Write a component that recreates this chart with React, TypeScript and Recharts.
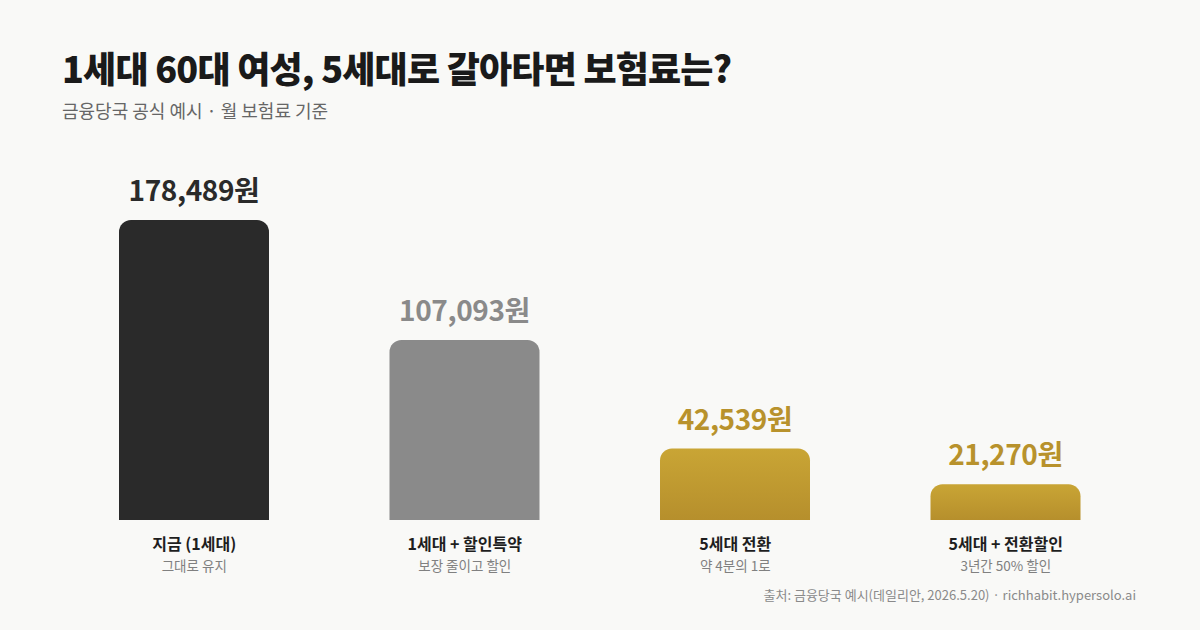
import React from "react";
import { BarChart, Bar, XAxis, YAxis, Cell, LabelList } from "recharts";

const categories = ["지금 (1세대)", "1세대 + 할인특약", "5세대 전환", "5세대 + 전환할인"];
const subLabels = ["그대로 유지", "보장 줄이고 할인", "약 4분의 1로", "3년간 50% 할인"];
const values = [178489, 107093, 42539, 21270];
const barFills = ["#2a2a2a", "#8a8a8a", "url(#goldGrad)", "url(#goldGrad)"];
const labelColors = ["#2a2a2a", "#8a8a8a", "#b8922c", "#b8922c"];

const title = "1세대 60대 여성, 5세대로 갈아타면 보험료는?";
const subtitle = "금융당국 공식 예시 · 월 보험료 기준";
const source = "출처: 금융당국 예시(데일리안, 2026.5.20) · richhabit.hypersolo.ai";

const data = categories.map((c, i) => ({ name: c, sub: subLabels[i], value: values[i] }));

const FONT = "'Noto Sans CJK KR', 'Noto Sans', sans-serif";

const Tick = (props: any) => {
  const { x, y, payload, index } = props;
  return (
    <g>
      <text x={x} y={y + 22} textAnchor="middle" fontFamily={FONT} fontSize={16} fontWeight={700} fill="#1e1e1e">
        {categories[index] ?? payload.value}
      </text>
      <text x={x} y={y + 43} textAnchor="middle" fontFamily={FONT} fontSize={13.5} fill="#808080">
        {subLabels[index]}
      </text>
    </g>
  );
};

const ValueLabel = (props: any) => {
  const { x, y, width, index, value } = props;
  return (
    <text
      x={x + width / 2}
      y={y - 19}
      textAnchor="middle"
      fontFamily={FONT}
      fontSize={28}
      fontWeight={700}
      letterSpacing={-0.4}
      fill={labelColors[index]}
    >
      {Number(value).toLocaleString("en-US")}원
    </text>
  );
};

export default function App() {
  return (
    <div
      style={{
        position: "fixed",
        left: 0,
        top: 0,
        width: 1200,
        height: 630,
        background: "#f9f9f7",
        fontFamily: FONT,
        overflow: "hidden",
      }}
    >
      <div
        style={{
          position: "absolute",
          left: 62,
          top: 42,
          fontSize: 36,
          fontWeight: 800,
          color: "#1a1a1a",
          letterSpacing: -0.8,
          lineHeight: "50px",
        }}
      >
        {title}
      </div>
      <div style={{ position: "absolute", left: 62, top: 97, fontSize: 18, color: "#666", lineHeight: "26px" }}>
        {subtitle}
      </div>
      <div
        style={{
          position: "absolute",
          right: 64,
          top: 585,
          fontSize: 13,
          color: "#8a8a8a",
          lineHeight: "20px",
        }}
      >
        {source}
      </div>
      <div style={{ position: "absolute", left: 0, top: 0 }}>
        <BarChart width={1200} height={630} data={data} margin={{ top: 220, right: 59, bottom: 50, left: 59 }}>
          <defs>
            <linearGradient id="goldGrad" x1="0" y1="0" x2="0" y2="1">
              <stop offset="0%" stopColor="#c9a535" />
              <stop offset="100%" stopColor="#b68f2c" />
            </linearGradient>
          </defs>
          <YAxis hide domain={[0, 178489]} />
          <XAxis dataKey="name" axisLine={false} tickLine={false} height={60} tick={<Tick />} interval={0} />
          <Bar dataKey="value" barSize={150} radius={[12, 12, 0, 0]} isAnimationActive={false}>
            {data.map((d, i) => (
              <Cell key={d.name} fill={barFills[i]} />
            ))}
            <LabelList dataKey="value" content={<ValueLabel />} />
          </Bar>
        </BarChart>
      </div>
    </div>
  );
}
